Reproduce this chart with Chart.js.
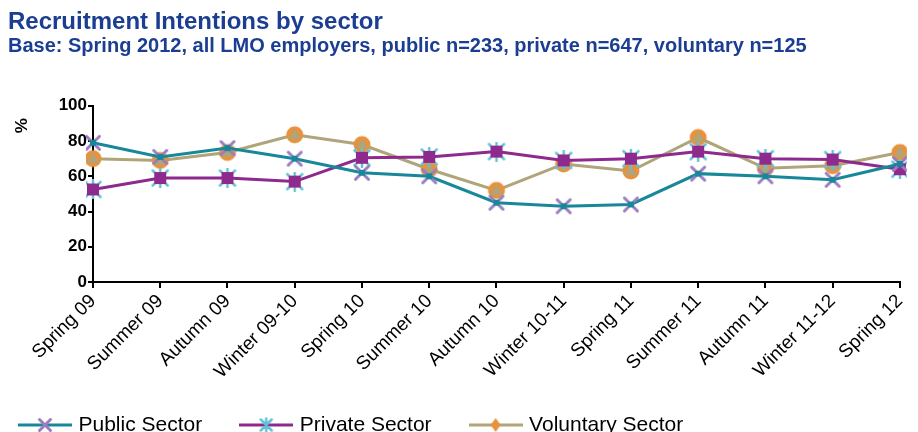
<!DOCTYPE html>
<html>
<head>
<meta charset="utf-8">
<script src="https://cdn.jsdelivr.net/npm/chart.js@4.4.1/dist/chart.umd.min.js"></script>
<style>
  html, body { margin: 0; background: #fff; }
  #wrap { width: 918px; height: 432px; }
</style>
</head>
<body>
<div id="wrap"><canvas id="chart"></canvas></div>
<script>
// Data
let categories = ["Spring 09", "Summer 09", "Autumn 09", "Winter 09-10", "Spring 10", "Summer 10",
  "Autumn 10", "Winter 10-11", "Spring 11", "Summer 11", "Autumn 11", "Winter 11-12", "Spring 12"];
let publicValues    = [79, 71, 76, 70, 62, 60, 45, 43, 44, 61.5, 60, 58, 67];
let privateValues   = [52.5, 59, 59, 57, 70.5, 71, 74, 69, 70, 74, 70, 69.5, 64];
let voluntaryValues = [70, 69, 73.5, 83.5, 78, 64, 52, 67, 63, 82, 64.5, 66, 73.5];
let yTicks = [0, 20, 40, 60, 80, 100];

let FONT = '"Liberation Sans", Arial, sans-serif';
let teal = '#17889a', purple = '#8e2a8e', khaki = '#b0a47a';
let orange = '#e8923d', lilac = '#9c7cc0', lightTeal = '#5fc3d5';

// small canvases used as markers
function makeCanvas(w, h) {
  let c = document.createElement('canvas');
  c.width = w; c.height = h;
  return c;
}

function drawCross(ctx, x, y, r, color, withCenter) {
  ctx.strokeStyle = color; ctx.lineWidth = 3; ctx.lineCap = 'round';
  ctx.beginPath();
  ctx.moveTo(x - r, y - r); ctx.lineTo(x + r, y + r);
  ctx.moveTo(x + r, y - r); ctx.lineTo(x - r, y + r);
  ctx.stroke();
  if (withCenter) {
    ctx.fillStyle = teal;
    ctx.fillRect(x - 3, y - 3, 6, 6);
  }
}

function drawStar(ctx, x, y, r, color) {
  ctx.strokeStyle = color; ctx.lineWidth = 2.5; ctx.lineCap = 'round';
  ctx.beginPath();
  ctx.moveTo(x - r, y - r); ctx.lineTo(x + r, y + r);
  ctx.moveTo(x + r, y - r); ctx.lineTo(x - r, y + r);
  ctx.moveTo(x, y - r * 1.2); ctx.lineTo(x, y + r * 1.2);
  ctx.stroke();
}

function drawSquareStar(ctx, x, y) {
  drawStar(ctx, x, y, 7.5, lightTeal);
  ctx.fillStyle = purple;
  ctx.fillRect(x - 6, y - 6, 12, 12);
}

function drawDot(ctx, x, y, r) {
  ctx.fillStyle = orange;
  ctx.beginPath(); ctx.arc(x, y, r, 0, Math.PI * 2); ctx.fill();
  ctx.fillStyle = khaki;
  ctx.beginPath();
  ctx.moveTo(x, y - r * 0.7); ctx.lineTo(x + r * 0.75, y + r * 0.5); ctx.lineTo(x - r * 0.75, y + r * 0.5);
  ctx.closePath(); ctx.fill();
}

let publicMarker = makeCanvas(20, 20);
drawCross(publicMarker.getContext('2d'), 10, 10, 6.5, lilac, true);
let privateMarker = makeCanvas(20, 20);
drawSquareStar(privateMarker.getContext('2d'), 10, 10);
let voluntaryMarker = makeCanvas(20, 20);
drawDot(voluntaryMarker.getContext('2d'), 10, 10, 8.5);

function legendIcon(lineColor, kind) {
  let c = makeCanvas(54, 20);
  let ctx = c.getContext('2d');
  ctx.strokeStyle = lineColor; ctx.lineWidth = 3;
  ctx.beginPath(); ctx.moveTo(0, 10); ctx.lineTo(54, 10); ctx.stroke();
  if (kind === 'cross') drawCross(ctx, 27, 10, 5.5, lilac, false);
  if (kind === 'star') drawStar(ctx, 27, 10, 5.5, lightTeal);
  if (kind === 'dot') {
    ctx.fillStyle = orange;
    ctx.beginPath(); ctx.moveTo(27, 3); ctx.lineTo(32, 10); ctx.lineTo(27, 17); ctx.lineTo(22, 10); ctx.closePath(); ctx.fill();
  }
  return c;
}
let legendIcons = [legendIcon(teal, 'cross'), legendIcon(purple, 'star'), legendIcon(khaki, 'dot')];

// "%" next to the top of the y axis
let percentLabel = {
  id: 'percentLabel',
  afterDraw(chart) {
    let ctx = chart.ctx;
    ctx.save();
    ctx.translate(22, chart.chartArea.top + 20);
    ctx.rotate(-Math.PI / 2);
    ctx.font = 'bold 17px ' + FONT;
    ctx.fillStyle = '#000';
    ctx.textAlign = 'center';
    ctx.textBaseline = 'middle';
    ctx.fillText('%', 0, 0);
    ctx.restore();
  }
};

// put the legend row where it sits in the original
let legendShift = {
  id: 'legendShift',
  afterLayout(chart) {
    let lg = chart.legend;
    lg.left -= 27; lg.right -= 27;
    lg.top = 425 - 41 - 10.5;
    lg.bottom = lg.top + 100;
  }
};

let data = {
  labels: categories,
  datasets: [
    { label: 'Public Sector', data: publicValues, borderColor: teal, backgroundColor: teal,
      borderWidth: 3, pointStyle: publicMarker },
    { label: 'Private Sector', data: privateValues, borderColor: purple, backgroundColor: purple,
      borderWidth: 3, pointStyle: privateMarker },
    { label: 'Voluntary Sector', data: voluntaryValues, borderColor: khaki, backgroundColor: khaki,
      borderWidth: 3, pointStyle: voluntaryMarker }
  ]
};

let options = {
  responsive: true,
  maintainAspectRatio: false,
  animation: false,
  layout: { padding: { left: 8, right: 5, top: 0, bottom: 0 } },
  scales: {
    x: {
      offset: false,
      afterFit: s => { s.height = 105; },
      grid: { drawOnChartArea: false, color: '#000', lineWidth: 2, tickLength: 6 },
      border: { color: '#000', width: 2 },
      ticks: { color: '#000', font: { family: FONT, size: 19 }, minRotation: 45, maxRotation: 45, autoSkip: false, padding: 2 }
    },
    y: {
      min: 0, max: 100,
      afterBuildTicks: s => { s.ticks = yTicks.map(v => ({ value: v })); },
      afterFit: s => { s.width = 85; },
      grid: { drawOnChartArea: false, color: '#000', lineWidth: 2, tickLength: 5 },
      border: { color: '#000', width: 2 },
      ticks: { color: '#000', font: { family: FONT, size: 17, weight: 'bold' }, padding: 1 }
    }
  },
  plugins: {
    title: {
      display: true, align: 'start', text: 'Recruitment Intentions by sector',
      color: '#1b3e93', font: { family: FONT, size: 24, weight: 'bold' },
      padding: { top: 8, bottom: -2 }
    },
    subtitle: {
      display: true, align: 'start',
      text: 'Base: Spring 2012, all LMO employers, public n=233, private n=647, voluntary n=125',
      color: '#1b3e93', font: { family: FONT, size: 20, weight: 'bold' },
      padding: { top: 0, bottom: 47 }
    },
    legend: {
      position: 'bottom', align: 'start', maxHeight: 45,
      labels: {
        usePointStyle: true, pointStyleWidth: 46, color: '#000',
        font: { family: FONT, size: 21 }, padding: 41,
        generateLabels: chart => {
          let items = Chart.defaults.plugins.legend.labels.generateLabels(chart);
          items.forEach((it, i) => { it.pointStyle = legendIcons[i]; });
          return items;
        }
      }
    },
    tooltip: { enabled: false }
  }
};

new Chart(document.getElementById('chart').getContext('2d'), {
  type: 'line',
  data: data,
  options: options,
  plugins: [percentLabel, legendShift]
});
</script>
</body>
</html>
